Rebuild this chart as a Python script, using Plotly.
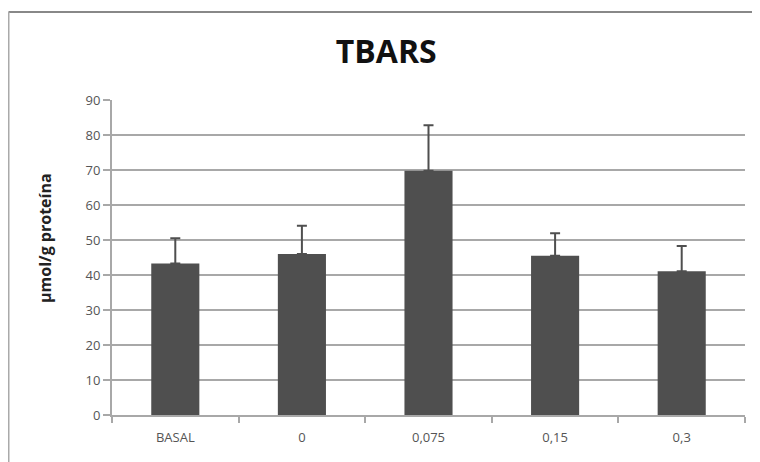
import plotly.graph_objects as go

categories = ["BASAL", "0", "0,075", "0,15", "0,3"]
values = [43.3, 46.0, 69.8, 45.5, 41.1]
err_plus = [7.2, 8.1, 13.0, 6.4, 7.2]
y_ticks = [0, 10, 20, 30, 40, 50, 60, 70, 80, 90]

fig = go.Figure()
fig.add_trace(go.Bar(
    x=categories, y=values, width=0.38,
    marker=dict(color="#4f4f4f", line=dict(width=0)),
    error_y=dict(type="data", array=err_plus, symmetric=False,
                 arrayminus=[0]*len(values), color="#4f4f4f",
                 thickness=2, width=5),
))

# page body has an 8px margin, so figure coordinates are offset by 8px
fig.update_layout(
    width=752, height=454,
    margin=dict(l=104, r=15, t=92, b=47),
    paper_bgcolor="white", plot_bgcolor="white",
    showlegend=False,
    title=dict(text="<b>TBARS</b>", x=0.503, xanchor="center", y=0.903, yanchor="middle",
               font=dict(family="Open Sans, Liberation Sans, sans-serif", size=32, color="#111")),
    font=dict(family="Open Sans, Liberation Sans, sans-serif", color="#444"),
    annotations=[dict(text="<b>µmol/g proteína</b>", textangle=-90, xref="paper", yref="paper",
                      x=(37-104)/633, y=(407-230)/315, xanchor="center", yanchor="middle",
                      showarrow=False, font=dict(size=16, color="#222"))],
)
fig.update_yaxes(
    range=[0, 90], tickvals=y_ticks, showgrid=True, gridcolor="#a8a8a8", gridwidth=2,
    showline=True, linecolor="#a8a8a8", linewidth=2, ticks="outside", ticklen=7,
    tickcolor="#a8a8a8", tickwidth=2, tickfont=dict(size=13, color="#555"),
    zeroline=False,
)
fig.update_xaxes(
    showline=True, linecolor="#a8a8a8", linewidth=2, ticks="outside", ticklen=6,
    tickcolor="#a8a8a8", tickwidth=2, tickson="boundaries",
    tickfont=dict(size=13, color="#555"), ticklabelstandoff=9,
)
top_y = (407 - 4) / 315
left_x = (0.5 - 104) / 633
fig.add_shape(type="line", xref="paper", yref="paper",
              x0=left_x, x1=(760 - 104) / 633, y0=top_y, y1=top_y,
              line=dict(color="#888", width=2), layer="below")
fig.add_shape(type="line", xref="paper", yref="paper",
              x0=left_x, x1=left_x, y0=top_y, y1=-0.3,
              line=dict(color="#aaa", width=2), layer="below")

fig.write_html("out.html")
